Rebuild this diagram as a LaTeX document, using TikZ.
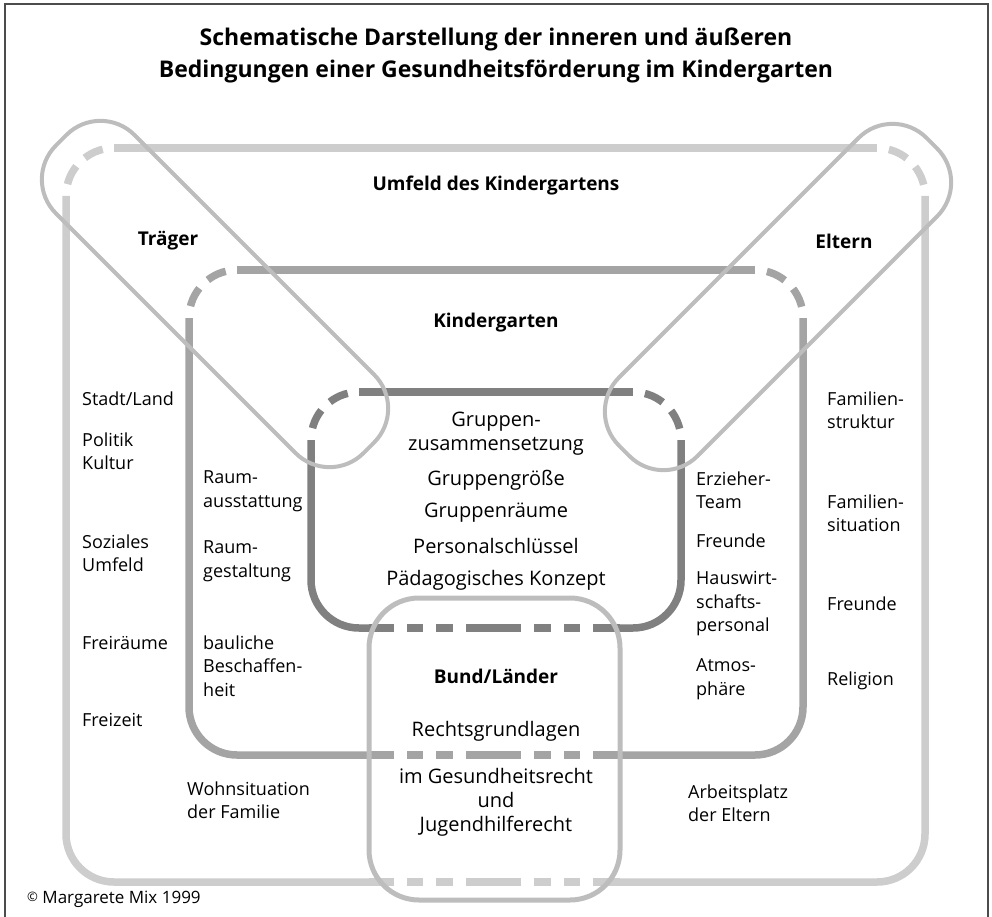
\documentclass[tikz,border=0pt]{standalone}
\usepackage{fontspec}
\setmainfont{Open Sans}
\usepackage{xcolor}
\usetikzlibrary{positioning}
\definecolor{grauhell}{HTML}{CDCDCD}
\definecolor{graumittel}{HTML}{A4A4A4}
\definecolor{graudunkel}{HTML}{808080}
\definecolor{graukapsel}{HTML}{BDBDBD}

\begin{document}
\begin{tikzpicture}[x=1pt,y=-1pt,
    umfeld/.style={line width=7.5pt,color=grauhell},
    kiga/.style={line width=7.5pt,color=graumittel},
    gruppe/.style={line width=7.5pt,color=graudunkel},
    rund/.style={rounded corners=48pt},
    ecke/.style={rounded corners=48pt,dash pattern=on 20pt off 12pt,dash phase=20pt},
    bundstrich/.style={dash pattern=on 25pt off 13pt on 16pt off 13pt on 17pt off 13pt on 55pt off 13pt on 17pt off 13pt on 16pt off 13pt on 30pt off 10pt},
    kapsel/.style={draw=graukapsel,line width=4pt,rounded corners=48pt,minimum width=435pt,minimum height=111pt},
    titel/.style={font=\fontsize{23}{32}\selectfont\bfseries,align=center,inner sep=0pt},
    marke/.style={font=\fontsize{19}{24}\selectfont\bfseries,inner sep=0pt},
    mitte/.style={font=\fontsize{20}{24}\selectfont,align=center,inner sep=0pt},
    seite/.style={font=\fontsize{18}{23.5}\selectfont,align=left,anchor=west,inner sep=0pt}]
  \useasboundingbox (0,0) rectangle (992,917);
  \draw[line width=1.5pt,color=black!70] (5,917) -- (5,4) -- (988,4) -- (988,917);

  \node[titel] (titel) at (496,55) {Schematische Darstellung der inneren und äußeren\\Bedingungen einer Gesundheitsförderung im Kindergarten};

  % Umfeld
  \draw[umfeld] (114,148) -- (877,148);
  \draw[umfeld,ecke] (66,196) -- (66,148) -- (114,148);
  \draw[umfeld,ecke] (877,148) -- (925,148) -- (925,196);
  \draw[umfeld,rund] (925,196) -- (925,882) -- (620,882);
  \draw[umfeld,bundstrich] (369,882) -- (620,882);
  \draw[umfeld,rund] (369,882) -- (66,882) -- (66,196);

  % Kindergarten
  \draw[kiga] (237,270) -- (755,270);
  \draw[kiga,ecke] (189,318) -- (189,270) -- (237,270);
  \draw[kiga,ecke] (755,270) -- (803,270) -- (803,318);
  \draw[kiga,rund] (803,318) -- (803,755) -- (620,755);
  \draw[kiga,bundstrich] (369,755) -- (620,755);
  \draw[kiga,rund] (369,755) -- (189,755) -- (189,318);

  % Gruppe
  \draw[gruppe] (359,392) -- (633,392);
  \draw[gruppe,ecke] (311,440) -- (311,392) -- (359,392);
  \draw[gruppe,ecke] (633,392) -- (681,392) -- (681,440);
  \draw[gruppe,rund] (681,440) -- (681,628) -- (620,628);
  \draw[gruppe,bundstrich] (369,628) -- (620,628);
  \draw[gruppe,rund] (369,628) -- (311,628) -- (311,440);

  \draw[graukapsel,line width=5pt,rounded corners=50pt] (369,598) rectangle (620,900);
  \node[kapsel,rotate=-45] (traegerkapsel) at (215,294) {};
  \node[kapsel,rotate=45] (elternkapsel) at (778,297) {};

  \node[marke] (umfeld) at (496,186) {Umfeld des Kindergartens};
  \node[marke] (traeger) at (168,241) {Träger};
  \node[marke] (eltern) at (844,241) {Eltern};
  \node[marke] (kindergarten) at (496,323) {Kindergarten};
  \node[marke] (bund) at (496,676) {Bund/Länder};

  \node[mitte] (zusammensetzung) at (496,434) {Gruppen-\\zusammensetzung};
  \node[mitte] (groesse) at (496,480) {Gruppengröße};
  \node[mitte] (raeume) at (496,513) {Gruppenräume};
  \node[mitte] (schluessel) at (496,546) {Personalschlüssel};
  \node[mitte] (konzept) at (496,580) {Pädagogisches Konzept};
  \node[mitte] (recht) at (496,731) {Rechtsgrundlagen};
  \node[mitte] (gesetze) at (496,802) {im Gesundheitsrecht\\und\\Jugendhilferecht};

  \node[seite] (stadt) at (82,399) {Stadt/Land};
  \node[seite] (politik) at (82,451) {Politik\\Kultur};
  \node[seite] (sozial) at (82,553) {Soziales\\Umfeld};
  \node[seite] (freiraum) at (82,643) {Freiräume};
  \node[seite] (freizeit) at (82,720) {Freizeit};

  \node[seite] (ausstattung) at (203,491) {Raum-\\ausstattung};
  \node[seite] (gestaltung) at (203,561) {Raum-\\gestaltung};
  \node[seite] (bau) at (203,666) {bauliche\\Beschaffen-\\heit};

  \node[seite] (team) at (696,490) {Erzieher-\\Team};
  \node[seite] (freundekiga) at (696,541) {Freunde};
  \node[seite] (personal) at (696,604) {Hauswirt-\\schafts-\\personal};
  \node[seite] (atmo) at (696,679) {Atmos-\\phäre};

  \node[seite] (struktur) at (827,410) {Familien-\\struktur};
  \node[seite] (situation) at (827,513) {Familien-\\situation};
  \node[seite] (freundefam) at (827,604) {Freunde};
  \node[seite] (religion) at (827,681) {Religion};

  \node[seite] (wohnen) at (187,800) {Wohnsituation\\der Familie};
  \node[seite] (arbeit) at (688,803) {Arbeitsplatz\\der Eltern};

  \node[seite,font=\fontsize{17}{20}\selectfont] (copy) at (27,899) {\raisebox{1.5pt}{\fontsize{13}{14}\selectfont ©} Margarete Mix 1999};
\end{tikzpicture}
\end{document}
